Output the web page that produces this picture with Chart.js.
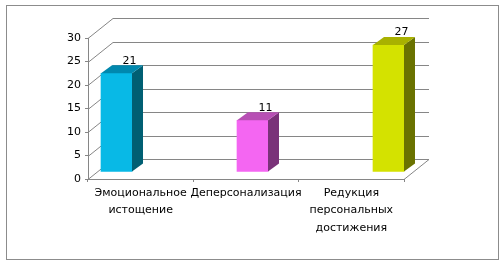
<!DOCTYPE html>
<html>
<head>
<meta charset="utf-8">
<script src="https://cdn.jsdelivr.net/npm/chart.js@4.4.1/dist/chart.umd.min.js"></script>
<style>
html, body { margin: 0; padding: 0; background: #ffffff; }
</style>
</head>
<body>
<canvas id="chart" width="504" height="265"></canvas>
<script>
// Data
const categories = [["Эмоциональное", "истощение"], "Деперсонализация", ["Редукция", "персональных", "достижения"]];
const values = [21, 11, 27];
const yTicks = [0, 5, 10, 15, 20, 25, 30];

// Colors
const COLOR_FRONT = ["#08b9e6", "#f466f2", "#d4e200"];
const COLOR_SIDE  = ["#005f73", "#7a3279", "#6a7200"];
const COLOR_TOP   = ["#0088ae", "#b74fb4", "#a8b100"];
const COLOR_GRID  = "#868686";
const FONT = { family: "'DejaVu Sans', sans-serif", size: 11 };

// 3D offsets (pixels)
const WALL_DX = 25, WALL_DY = -20;   // front plane -> back wall
const BAR_DY = -7;                   // front plane -> bar front face
const BAR_DX = 11, BAR_TOP_DY = -8;  // bar depth

function line(ctx, x1, y1, x2, y2) {
    ctx.beginPath();
    ctx.moveTo(x1, y1);
    ctx.lineTo(x2, y2);
    ctx.stroke();
}

// Draws the box, back wall and the 3D sides of the bars
const box3d = {
    id: "box3d",
    beforeDraw(chart) {
        const ctx = chart.ctx;
        ctx.save();
        ctx.fillStyle = "#ffffff";
        ctx.fillRect(0, 0, chart.width, chart.height);
        ctx.strokeStyle = "#8c8c8c";
        ctx.lineWidth = 1;
        ctx.strokeRect(6.5, 5.5, 492, 254);
        ctx.restore();
    },
    beforeDatasetsDraw(chart) {
        const ctx = chart.ctx;
        const a = chart.chartArea;
        const ys = chart.scales.y;
        ctx.save();
        ctx.strokeStyle = COLOR_GRID;
        ctx.lineWidth = 1;
        yTicks.forEach(v => {
            const y = Math.round(ys.getPixelForValue(v)) + 0.5;
            line(ctx, a.left, y, a.left + WALL_DX, y + WALL_DY);
            line(ctx, a.left + WALL_DX, y + WALL_DY, a.right + WALL_DX, y + WALL_DY);
        });
        const yb = Math.round(a.bottom) + 0.5;
        line(ctx, a.right, yb, a.right + WALL_DX, yb + WALL_DY);
        ctx.restore();
        // bars sit a little behind the front plane
        ctx.save();
        ctx.translate(0, BAR_DY);
    },
    afterDatasetsDraw(chart) {
        const ctx = chart.ctx;
        const bars = chart.getDatasetMeta(0).data;
        bars.forEach((bar, i) => {
            const l = bar.x - bar.width / 2, r = bar.x + bar.width / 2;
            ctx.fillStyle = COLOR_SIDE[i];
            ctx.beginPath();
            ctx.moveTo(r, bar.y);
            ctx.lineTo(r + BAR_DX, bar.y + BAR_TOP_DY);
            ctx.lineTo(r + BAR_DX, bar.base + BAR_TOP_DY);
            ctx.lineTo(r, bar.base);
            ctx.closePath();
            ctx.fill();
            ctx.fillStyle = COLOR_TOP[i];
            ctx.beginPath();
            ctx.moveTo(l, bar.y);
            ctx.lineTo(l + BAR_DX, bar.y + BAR_TOP_DY);
            ctx.lineTo(r + BAR_DX, bar.y + BAR_TOP_DY);
            ctx.lineTo(r, bar.y);
            ctx.closePath();
            ctx.fill();
            // value label
            ctx.fillStyle = "#000000";
            ctx.font = FONT.size + "px " + FONT.family;
            ctx.textAlign = "center";
            ctx.textBaseline = "bottom";
            ctx.fillText(String(values[i]), bar.x + BAR_DX + 2, bar.y + BAR_TOP_DY + 1);
        });
        ctx.restore();
    }
};

new Chart("chart", {
    type: "bar",
    data: {
        labels: categories,
        datasets: [{
            xAxisID: "xb",
            data: values.map((v, i) => ({ x: i, y: v })),
            backgroundColor: COLOR_FRONT,
            borderWidth: 0,
            barThickness: 31,
            clip: false
        }]
    },
    options: {
        responsive: false,
        animation: false,
        devicePixelRatio: 1,
        layout: { padding: { left: 48, right: 100, top: 38, bottom: 26 } },
        plugins: {
            legend: { display: false },
            tooltip: { enabled: false }
        },
        scales: {
            x: {
                type: "category",
                offset: true,
                grid: { offset: true, drawOnChartArea: false, drawTicks: true, tickLength: 3, color: COLOR_GRID },
                border: { display: true, color: COLOR_GRID },
                ticks: { font: { family: FONT.family, size: FONT.size, lineHeight: 1.6 }, color: "#000000", padding: 2, maxRotation: 0, autoSkip: false },
                afterFit: s => { s.height = 60; }
            },
            xb: {
                type: "linear",
                display: false,
                offset: false,
                grid: { offset: false },
                min: -0.2096,
                max: 2.114
            },
            y: {
                min: 0,
                max: 30,
                afterBuildTicks: s => { s.ticks = yTicks.map(v => ({ value: v })); },
                grid: { drawOnChartArea: false, drawTicks: true, tickLength: 3, color: COLOR_GRID },
                border: { display: true, color: COLOR_GRID },
                ticks: { font: FONT, color: "#000000", padding: 4 },
                afterFit: s => { s.width = 40; }
            }
        }
    },
    plugins: [box3d]
});
</script>
</body>
</html>
